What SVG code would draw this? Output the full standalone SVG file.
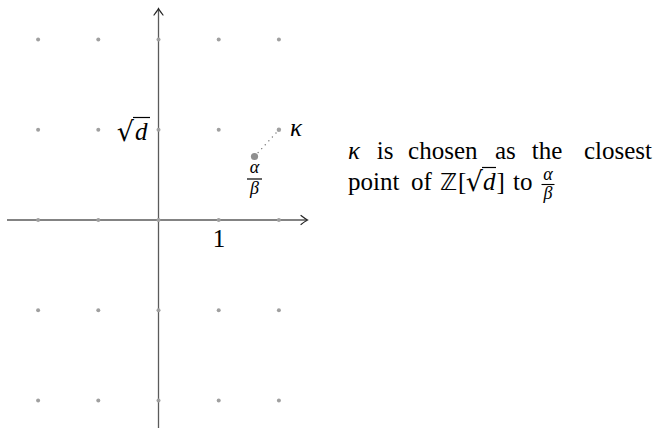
<svg xmlns="http://www.w3.org/2000/svg" width="653" height="428" viewBox="0 0 653 428">
<defs>
<marker id="arr" viewBox="-8 -6 10 12" markerWidth="10" markerHeight="12" refX="0" refY="0" orient="auto" markerUnits="userSpaceOnUse">
<path d="M-6,-4.5 Q-1.5,-1 0.5,0 Q-1.5,1 -6,4.5" fill="none" stroke="#222" stroke-width="1.2" stroke-linecap="round"/>
</marker>
</defs>
<g id="connectors" fill="none">
<line x1="7" y1="220" x2="307" y2="220" stroke="#5a5a5a" stroke-width="1.3" marker-end="url(#arr)"/>
<line x1="158.5" y1="428" x2="158.5" y2="9" stroke="#5a5a5a" stroke-width="1.3" marker-end="url(#arr)"/>
<line x1="254.5" y1="156.5" x2="278.9" y2="129.8" stroke="#777" stroke-width="1.3" stroke-dasharray="0.1 5.2" stroke-linecap="round"/>
</g>
<g id="grid" fill="#a0a0a0">
<circle cx="38.1" cy="39.6" r="2"/><circle cx="98.3" cy="39.6" r="2"/><circle cx="158.5" cy="39.6" r="2"/><circle cx="218.7" cy="39.6" r="2"/><circle cx="278.9" cy="39.6" r="2"/>
<circle cx="38.1" cy="129.8" r="2"/><circle cx="98.3" cy="129.8" r="2"/><circle cx="158.5" cy="129.8" r="2"/><circle cx="218.7" cy="129.8" r="2"/>
<circle cx="38.1" cy="220" r="2"/><circle cx="98.3" cy="220" r="2"/><circle cx="158.5" cy="220" r="2"/><circle cx="218.7" cy="220" r="2"/><circle cx="278.9" cy="220" r="2"/>
<circle cx="38.1" cy="310.2" r="2"/><circle cx="98.3" cy="310.2" r="2"/><circle cx="158.5" cy="310.2" r="2"/><circle cx="218.7" cy="310.2" r="2"/><circle cx="278.9" cy="310.2" r="2"/>
<circle cx="38.1" cy="400.4" r="2"/><circle cx="98.3" cy="400.4" r="2"/><circle cx="158.5" cy="400.4" r="2"/><circle cx="218.7" cy="400.4" r="2"/><circle cx="278.9" cy="400.4" r="2"/>
</g>
<g id="kappa">
<circle cx="278.9" cy="129.8" r="2.2" fill="#a0a0a0"/>
<text x="290" y="136" font-family="Liberation Serif" font-size="25" font-style="italic">κ</text>
</g>
<g id="alphabeta">
<circle cx="254.5" cy="156.5" r="3.6" fill="#8f8f8f"/>
<text x="254.5" y="173" text-anchor="middle" font-family="Liberation Serif" font-size="18" font-style="italic">α</text>
<line x1="247" y1="179" x2="262" y2="179" stroke="#000" stroke-width="1.2"/>
<text x="254.5" y="194" text-anchor="middle" font-family="Liberation Serif" font-size="18" font-style="italic">β</text>
</g>
<g id="sqrtd">
<text x="134" y="141" text-anchor="end" font-family="DejaVu Sans" font-size="27">√</text>
<line x1="133" y1="117.5" x2="150" y2="117.5" stroke="#000" stroke-width="1.2"/>
<text x="135" y="140" font-family="Liberation Serif" font-size="25" font-style="italic">d</text>
</g>
<g id="one">
<text x="219" y="247" text-anchor="middle" font-family="Liberation Serif" font-size="25">1</text>
</g>
<g id="caption">
<text x="348" y="159" font-family="Liberation Serif" font-size="25" font-style="italic">κ</text>
<text x="376.8" y="159" font-family="Liberation Serif" font-size="25">is</text>
<text x="408.1" y="159" font-family="Liberation Serif" font-size="25">chosen</text>
<text x="495" y="159" font-family="Liberation Serif" font-size="25">as</text>
<text x="531.8" y="159" font-family="Liberation Serif" font-size="25">the</text>
<text x="652" y="159" text-anchor="end" font-family="Liberation Serif" font-size="25">closest</text>
<text x="348" y="190" font-family="Liberation Serif" font-size="25">point</text>
<text x="411" y="190" font-family="Liberation Serif" font-size="25">of</text>
<text x="440" y="190" font-family="DejaVu Sans" font-size="23">ℤ</text>
<text x="458" y="190" font-family="Liberation Serif" font-size="25">[</text>
<text x="483" y="191" text-anchor="end" font-family="DejaVu Sans" font-size="27">√</text>
<line x1="482" y1="167.5" x2="496" y2="167.5" stroke="#000" stroke-width="1.2"/>
<text x="483" y="190" font-family="Liberation Serif" font-size="25" font-style="italic">d</text>
<text x="496.5" y="190" font-family="Liberation Serif" font-size="25">]</text>
<text x="513" y="190" font-family="Liberation Serif" font-size="25">to</text>
<text x="548" y="180" text-anchor="middle" font-family="Liberation Serif" font-size="18" font-style="italic">α</text>
<line x1="541.5" y1="184.5" x2="554.5" y2="184.5" stroke="#000" stroke-width="1.1"/>
<text x="548" y="199" text-anchor="middle" font-family="Liberation Serif" font-size="18" font-style="italic">β</text>
</g>
</svg>
